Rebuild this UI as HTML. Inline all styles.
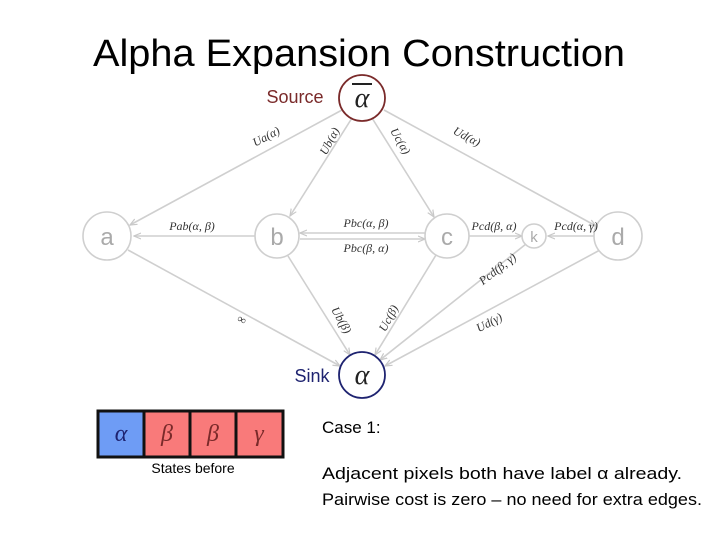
<!DOCTYPE html>
<html><head><meta charset="utf-8"><style>
html,body{margin:0;padding:0;background:#fff;width:720px;height:540px;overflow:hidden}
svg{display:block}
</style></head><body>
<svg width="720" height="540" viewBox="0 0 720 540" xmlns="http://www.w3.org/2000/svg">
<defs><marker id="ar" markerWidth="8" markerHeight="8" refX="7" refY="4" orient="auto" markerUnits="userSpaceOnUse"><path d="M0,1 L7,4 L0,7" fill="none" stroke="#c8c8c8" stroke-width="1.2"/></marker></defs>
<text x="93" y="66" textLength="532" lengthAdjust="spacingAndGlyphs" font-family="Liberation Sans, sans-serif" font-size="38" fill="#000">Alpha Expansion Construction</text>
<g stroke="#cfcfcf" stroke-width="1.6" fill="none" marker-end="url(#ar)">
<line x1="342" y1="110" x2="130" y2="225"/>
<line x1="352" y1="118" x2="290" y2="216"/>
<line x1="372" y1="118" x2="434" y2="217"/>
<line x1="384" y1="110" x2="596" y2="226"/>
<line x1="256" y1="236" x2="134" y2="236"/>
<line x1="425" y1="233" x2="300" y2="233"/>
<line x1="300" y1="239" x2="425" y2="239"/>
<line x1="469" y1="236" x2="522" y2="236"/>
<line x1="596" y1="236" x2="548" y2="236"/>
<line x1="128" y1="250" x2="340" y2="366"/>
<line x1="288" y1="256" x2="350" y2="355"/>
<line x1="436" y1="255" x2="375" y2="355"/>
<line x1="526" y1="244" x2="380" y2="360"/>
<line x1="600" y1="250" x2="385" y2="366"/>
</g>
<g fill="#fff" stroke="#cfcfcf" stroke-width="1.6">
<circle cx="107" cy="236" r="24"/><circle cx="277" cy="236" r="22"/><circle cx="447" cy="236" r="22"/><circle cx="534" cy="236" r="12"/><circle cx="618" cy="236" r="24"/>
</g>
<circle cx="362" cy="98" r="23" fill="#fff" stroke="#7a2a2a" stroke-width="1.8"/>
<circle cx="362" cy="375" r="23" fill="#fff" stroke="#1e2370" stroke-width="1.8"/>
<g font-family="Liberation Sans, sans-serif" fill="#aaa" text-anchor="middle">
<text x="107" y="245" font-size="24">a</text><text x="277" y="245" font-size="24">b</text><text x="447" y="245" font-size="24">c</text><text x="534" y="242" font-size="15">k</text><text x="618" y="245" font-size="24">d</text>
</g>
<text x="295" y="103" font-family="Liberation Sans, sans-serif" font-size="18" fill="#7a2a2a" text-anchor="middle">Source</text>
<text x="362" y="107" font-family="Liberation Serif, serif" font-style="italic" font-size="28" fill="#222" text-anchor="middle">α</text>
<line x1="352" y1="84" x2="372" y2="84" stroke="#222" stroke-width="2"/>
<text x="312" y="382" font-family="Liberation Sans, sans-serif" font-size="18" fill="#1e2370" text-anchor="middle">Sink</text>
<text x="362" y="384" font-family="Liberation Serif, serif" font-style="italic" font-size="28" fill="#222" text-anchor="middle">α</text>
<g font-family="Liberation Serif, serif" font-style="italic" font-size="12" fill="#333" text-anchor="middle">
<text transform="translate(268,140) rotate(-28)">Ua(α)</text>
<text transform="translate(333,143) rotate(-62)">Ub(α)</text>
<text transform="translate(397,143) rotate(60)">Uc(α)</text>
<text transform="translate(465,140) rotate(28)">Ud(α)</text>
<text x="192" y="230">Pab(α, β)</text>
<text x="366" y="227">Pbc(α, β)</text>
<text x="366" y="252">Pbc(β, α)</text>
<text x="494" y="230">Pcd(β, α)</text>
<text x="576" y="230">Pcd(α, γ)</text>
<text transform="translate(500,272) rotate(-38)">Pcd(β, γ)</text>
<text transform="translate(240,323) rotate(28)">∞</text>
<text transform="translate(338,322) rotate(60)">Ub(β)</text>
<text transform="translate(392,320) rotate(-62)">Uc(β)</text>
<text transform="translate(491,326) rotate(-28)">Ud(γ)</text>
</g>
<g stroke="#111" stroke-width="3">
<rect x="98" y="411" width="46" height="46" fill="#6e9cf5"/>
<rect x="144" y="411" width="46" height="46" fill="#f97a7a"/>
<rect x="190" y="411" width="46" height="46" fill="#f97a7a"/>
<rect x="236" y="411" width="47" height="46" fill="#f97a7a"/>
</g>
<g font-family="Liberation Serif, serif" font-style="italic" font-size="24" text-anchor="middle">
<text x="121" y="441" fill="#1e2370">α</text><text x="167" y="441" fill="#7a2a2a">β</text><text x="213" y="441" fill="#7a2a2a">β</text><text x="259" y="441" fill="#7a2a2a">γ</text>
</g>
<text x="193" y="473" font-family="Liberation Sans, sans-serif" font-size="14" fill="#000" text-anchor="middle">States before</text>
<g font-family="Liberation Sans, sans-serif" font-size="17" fill="#000">
<text x="322" y="433">Case 1:</text>
<text x="322" y="479" textLength="360" lengthAdjust="spacingAndGlyphs">Adjacent pixels both have label α already.</text>
<text x="322" y="505" textLength="380" lengthAdjust="spacingAndGlyphs">Pairwise cost is zero – no need for extra edges.</text>
</g>
</svg>
</body></html>
